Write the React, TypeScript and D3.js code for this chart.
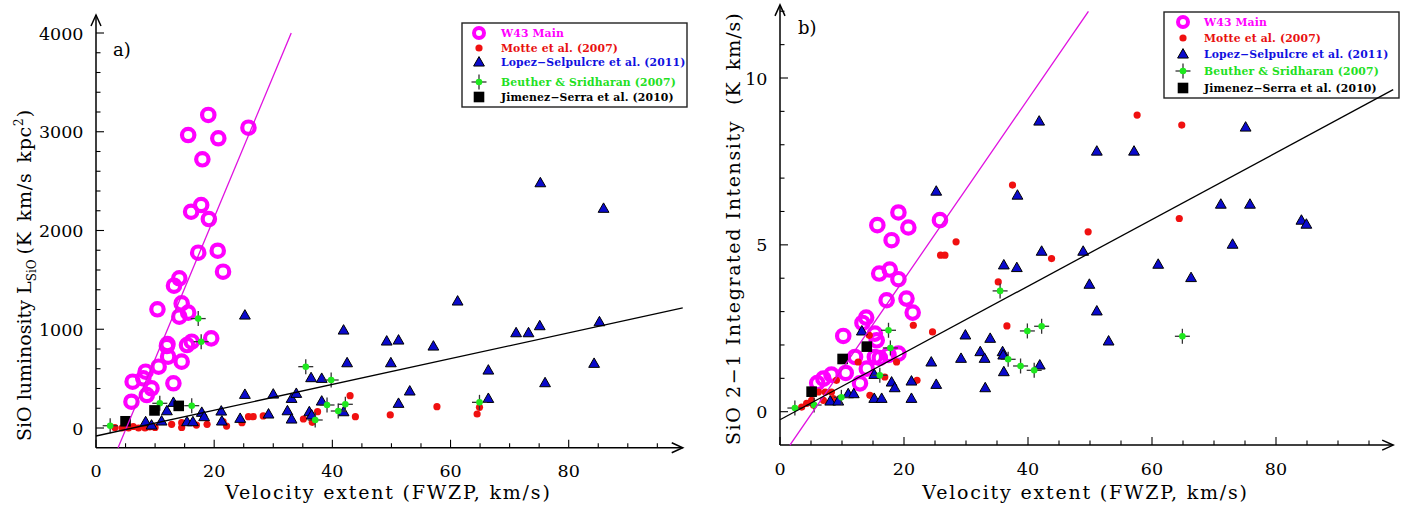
import React from 'react';
import * as d3 from 'd3';

// ---------- DATA (panel a: SiO luminosity, K km/s kpc^2) ----------
const w43A: [number, number][] = [
  [19.0, 3170], [15.6, 2967], [20.7, 2934], [25.8, 3041], [18.0, 2721], [16.1, 2190], [17.8, 2258],
  [19.1, 2116], [17.3, 1775], [20.6, 1795], [21.5, 1583], [10.4, 1202], [14.1, 1516], [13.2, 1441],
  [14.5, 1262], [14.1, 1127], [15.6, 1168], [16.2, 874], [15.4, 840], [19.5, 908], [12.0, 830],
  [12.2, 722], [14.5, 672], [10.6, 621], [8.4, 570], [8.0, 503], [6.2, 469], [9.4, 402], [8.6, 334],
  [13.1, 453], [6.0, 266], [12.1, 850]
];
const motteA: [number, number][] = [
  [3.2, 5], [4.4, 0], [5.5, 0], [6.3, 15], [7.2, 0], [8.3, 0], [9.1, 10], [10.0, 5], [12.8, 37],
  [14.5, 54], [14.5, 5], [17.0, 30], [18.8, 37], [21.5, 64], [22.1, 20], [24.7, 54], [25.8, 115],
  [26.6, 115], [28.3, 122], [35.1, 91], [36.6, 57], [37.5, 165], [43.0, 327], [43.9, 115], [49.8, 132],
  [57.7, 216], [64.9, 209], [64.5, 142]
];
const lopezA: [number, number][] = [
  [8.4, 64], [9.4, 30], [11.1, 71], [12.0, 175], [13.1, 260], [15.4, 64], [16.4, 64], [17.9, 159],
  [18.3, 115], [21.2, 172], [21.3, 71], [24.4, 98], [25.2, 341], [25.2, 1144], [29.2, 142], [30.0, 344],
  [32.4, 175], [33.1, 91], [33.1, 300], [33.9, 351], [36.1, 165], [36.5, 132], [36.4, 510], [38.2, 503],
  [38.2, 273], [41.9, 992], [41.9, 165], [42.5, 661], [49.2, 881], [49.9, 661], [51.2, 891], [51.2, 250],
  [53.1, 375], [57.1, 830], [61.2, 1286], [66.4, 587], [66.4, 300], [71.1, 965], [73.2, 965],
  [75.1, 1036], [75.2, 2484], [76.0, 459], [84.3, 655], [85.2, 1076], [85.9, 2225]
];
const beutherA: [number, number][] = [
  [2.4, 23], [10.8, 250], [16.2, 226], [17.3, 1108], [17.8, 874], [35.5, 621], [39.8, 486], [39.1, 233],
  [42.2, 240], [41.0, 172], [37.1, 81], [64.9, 260]
];
const jimenezA: [number, number][] = [[5.0, 68], [9.9, 178], [14.0, 224]];
const fitSteepA = { slope: 143.3, intercept: -735 };
const fitShallowA = { slope: 13.06, intercept: -81 };

// ---------- DATA (panel b: SiO 2-1 integrated intensity, K km/s) ----------
const w43B: [number, number][] = [
  [19.1, 5.97], [15.7, 5.59], [20.7, 5.52], [25.8, 5.74], [18.0, 5.14], [16.0, 4.14], [17.7, 4.26],
  [19.1, 3.97], [17.2, 3.34], [20.4, 3.39], [21.4, 2.97], [10.2, 2.27], [13.9, 2.82], [13.3, 2.66],
  [15.3, 2.34], [15.6, 2.14], [16.1, 1.61], [19.1, 1.74], [15.3, 1.64], [12.1, 1.64], [14.0, 1.29],
  [12.9, 0.85], [10.6, 1.16], [8.3, 1.11], [7.0, 0.99], [6.0, 0.86], [17.5, 1.70]
];
const motteB: [number, number][] = [
  [3.5, 0.14], [4.3, 0.25], [5.1, 0.34], [5.4, 0.2], [6.2, 0.59], [7.0, 0.34], [7.3, 0.59], [8.3, 0.59],
  [8.6, 0.39], [9.1, 0.94], [12.6, 1.49], [14.4, 2.29], [14.5, 0.49], [16.9, 1.04], [18.8, 1.49],
  [21.5, 2.59], [22.1, 0.94], [24.6, 2.39], [25.9, 4.69], [26.6, 4.69], [28.4, 5.09], [35.2, 3.89],
  [36.6, 2.57], [37.5, 6.79], [43.8, 4.59], [49.7, 5.39], [57.6, 8.89], [64.4, 5.79], [64.8, 8.59]
];
const lopezB: [number, number][] = [
  [8.1, 0.32], [9.4, 0.32], [11.0, 0.54], [11.9, 0.54], [13.2, 2.42], [15.2, 1.12], [15.2, 0.4],
  [16.4, 0.4], [18.0, 0.89], [18.5, 0.72], [21.2, 0.92], [21.2, 0.4], [24.4, 1.49], [25.2, 0.82],
  [25.2, 6.61], [29.2, 1.6], [29.9, 2.3], [32.3, 1.8], [33.0, 1.6], [33.9, 2.2], [33.1, 0.72],
  [35.9, 1.8], [36.0, 1.7], [36.1, 1.2], [36.1, 4.4], [38.2, 4.32], [38.3, 6.49], [41.8, 8.71],
  [41.9, 1.4], [42.2, 4.81], [48.9, 4.81], [49.9, 3.82], [51.1, 7.81], [51.1, 3.02], [53.0, 2.12],
  [57.1, 7.81], [61.0, 4.42], [66.3, 4.02], [71.1, 6.22], [73.0, 5.02], [75.1, 8.53], [75.8, 6.22],
  [84.1, 5.74], [84.9, 5.62]
];
const beutherB: [number, number][] = [
  [2.4, 0.11], [5.5, 0.2], [9.9, 0.43], [16.1, 1.09], [17.5, 2.44], [17.8, 1.91], [35.5, 3.62],
  [36.8, 1.57], [38.8, 1.37], [41.0, 1.24], [39.9, 2.42], [42.2, 2.56], [64.9, 2.26]
];
const jimenezB: [number, number][] = [[5.1, 0.6], [10.1, 1.58], [14.0, 1.95]];
const fitSteepB = { slope: 0.27, intercept: -1.432 };
const fitShallowB = { slope: 0.1, intercept: -0.24 };

// ---------- labels ----------
const xTickLabels = [0, 20, 40, 60, 80];
const yTickLabelsA = [0, 1000, 2000, 3000, 4000];
const yTickLabelsB = [0, 5, 10];
const legendLabels = [
  'W43 Main',
  'Motte et al. (2007)',
  'Lopez\u2212Selpulcre et al. (2011)',
  'Beuther & Sridharan (2007)',
  'Jimenez\u2212Serra et al. (2010)'
];

const C = {
  magenta: '#ff00ff',
  magLine: '#e010e0',
  red: '#f01010',
  blue: '#0a0acc',
  green: '#1ee81e',
};
const legendColors = [C.magenta, '#e81010', '#1010e0', '#22e022', '#000'];

const FONT = '"DejaVu Serif", serif';

type Pt = [number, number];

function Ring({ x, y }: { x: number; y: number }) {
  return <circle cx={x} cy={y} r={6.2} fill="none" stroke={C.magenta} strokeWidth={4.2} />;
}
function Dot({ x, y }: { x: number; y: number }) {
  return <circle cx={x} cy={y} r={3.6} fill={C.red} />;
}
function Tri({ x, y }: { x: number; y: number }) {
  const s = 5.4;
  return (
    <path
      d={`M${x},${y - s}L${x + s},${y + s * 0.75}L${x - s},${y + s * 0.75}Z`}
      fill={C.blue}
      stroke="#000"
      strokeWidth={1}
    />
  );
}
function Cross({ x, y }: { x: number; y: number }) {
  return (
    <g>
      <line x1={x - 7.5} x2={x + 7.5} y1={y} y2={y} stroke="#333" strokeWidth={1.3} />
      <line x1={x} x2={x} y1={y - 7.5} y2={y + 7.5} stroke="#333" strokeWidth={1.3} />
      <circle cx={x} cy={y} r={3.3} fill={C.green} />
    </g>
  );
}
function Sq({ x, y }: { x: number; y: number }) {
  const s = 5.3;
  return <rect x={x - s} y={y - s} width={2 * s} height={2 * s} fill="#000" />;
}

const markers = [Ring, Dot, Tri, Cross, Sq];

interface PanelProps {
  x: d3.ScaleLinear<number, number>;
  y: d3.ScaleLinear<number, number>;
  xMax: number;
  yMin: number;
  yMax: number;
  steepTop: number;
  yMinorStep: number;
  yMajorStep: number;
  yTickLabels: number[];
  sets: Pt[][];
  fits: { slope: number; intercept: number }[];
  tag: string;
  tagPos: [number, number];
  legend: { x0: number; y0: number; x1: number; y1: number; symX: number; textX: number; rows: number[] };
  yTitle: React.ReactNode;
}

function Panel(p: PanelProps) {
  const { x, y } = p;
  const x0 = x(0);
  const yb = y(p.yMin);
  const xEnd = x(p.xMax);
  const yTop = y(p.yMax);
  const xMinor = d3.range(0, p.xMax, 5);
  const yMinor = d3.range(p.yMin, p.yMax, p.yMinorStep).filter((v) => v > p.yMin);
  const isMajor = (v: number, step: number) => Math.abs(v / step - Math.round(v / step)) < 1e-6;

  const fitLines = p.fits.map((f, i) => {
    const yAt = (xv: number) => f.slope * xv + f.intercept;
    let xa = 0;
    let xbv = p.xMax;
    if (yAt(xa) < p.yMin) xa = (p.yMin - f.intercept) / f.slope;
    const top = i === 0 ? p.steepTop : p.yMax;
    if (yAt(xbv) > top) xbv = (top - f.intercept) / f.slope;
    return (
      <line
        key={i}
        x1={x(xa)}
        y1={y(yAt(xa))}
        x2={x(xbv)}
        y2={y(yAt(xbv))}
        stroke={i === 0 ? C.magLine : '#000'}
        strokeWidth={1.3}
      />
    );
  });

  const L = p.legend;
  return (
    <g>
      {/* axes */}
      <line x1={x0} x2={xEnd} y1={yb} y2={yb} stroke="#000" strokeWidth={1.5} />
      <line x1={x0} x2={x0} y1={yb} y2={yTop} stroke="#000" strokeWidth={1.5} />
      <path d={`M${xEnd - 11},${yb - 5}L${xEnd},${yb}L${xEnd - 11},${yb + 5}`} fill="none" stroke="#000" strokeWidth={1.5} />
      <path d={`M${x0 - 5},${yTop + 11}L${x0},${yTop}L${x0 + 5},${yTop + 11}`} fill="none" stroke="#000" strokeWidth={1.5} />
      {xMinor.map((v) => (
        <line key={'xt' + v} x1={x(v)} x2={x(v)} y1={yb} y2={yb - (v % 20 === 0 ? 8 : 4.5)} stroke="#000" strokeWidth={1.1} />
      ))}
      {yMinor.map((v) => (
        <line key={'yt' + v} x1={x0} x2={x0 + (isMajor(v, p.yMajorStep) ? 8 : 4.5)} y1={y(v)} y2={y(v)} stroke="#000" strokeWidth={1.1} />
      ))}
      {xTickLabels.map((v) => (
        <text key={'xl' + v} x={x(v)} y={yb + 29.5} textAnchor="middle" fontFamily={FONT} fontSize={17.5}>
          {v}
        </text>
      ))}
      {p.yTickLabels.map((v) => (
        <text key={'yl' + v} x={x0 - 12.5} y={y(v) + 6.5} textAnchor="end" fontFamily={FONT} fontSize={17.5}>
          {v}
        </text>
      ))}
      <text
        x={(x0 + xEnd) / 2 - 1}
        y={499}
        textAnchor="middle"
        fontFamily={FONT}
        fontSize={19}
        letterSpacing={1.8}
      >
        Velocity extent (FWZP, km/s)
      </text>
      {p.yTitle}
      <text x={p.tagPos[0]} y={p.tagPos[1]} fontFamily={FONT} fontSize={18}>
        {p.tag}
      </text>
      {/* data */}
      {p.sets.map((set, si) => {
        const M = markers[si];
        return (
          <g key={'s' + si}>
            {set.map((d, i) => (
              <M key={i} x={x(d[0])} y={y(d[1])} />
            ))}
          </g>
        );
      })}
      {/* legend */}
      <rect x={L.x0} y={L.y0} width={L.x1 - L.x0} height={L.y1 - L.y0} fill="#fff" stroke="#222" strokeWidth={1.4} />
      {legendLabels.map((lab, i) => {
        const M = markers[i];
        return (
          <g key={'lg' + i}>
            {i === 0 ? (
              <circle cx={L.symX} cy={L.rows[i]} r={5} fill="none" stroke={C.magenta} strokeWidth={4} />
            ) : (
              <M x={L.symX} y={L.rows[i]} />
            )}
            <text
              x={L.textX}
              y={L.rows[i] + 4}
              fill={legendColors[i]}
              fontFamily={FONT}
              fontWeight="bold"
              fontSize={10.8}
              letterSpacing={0.15}
            >
              {lab}
            </text>
          </g>
        );
      })}
      {fitLines}
    </g>
  );
}

export default function App() {
  const xA = d3.scaleLinear().domain([0, 80]).range([96, 568.7]);
  const yA = d3.scaleLinear().domain([0, 4000]).range([428, 33]);
  const xB = d3.scaleLinear().domain([0, 80]).range([780, 1276]);
  const yB = d3.scaleLinear().domain([0, 10]).range([411.7, 78]);

  const yTitleA = (
    <text transform="translate(31,441) rotate(-90)" fontFamily={FONT} fontSize={19}>
      SiO luminosity L
      <tspan fontSize={12} dy={5}>SiO</tspan>
      <tspan dy={-5} dx={5} letterSpacing={0.8} wordSpacing={3}>(K km/s kpc</tspan>
      <tspan fontSize={12} dy={-8}>2</tspan>
      <tspan dy={8} dx={1}>)</tspan>
    </text>
  );
  const yTitleB = (
    <text transform="translate(740,445) rotate(-90)" fontFamily={FONT} fontSize={19}>
      <tspan letterSpacing={1.6}>SiO 2{'\u2212'}1 Integrated Intensity</tspan>
      <tspan dx={15} letterSpacing={1.0} wordSpacing={4}>(K km/s)</tspan>
    </text>
  );

  return (
    <svg width={1421} height={513} style={{ position: 'absolute', left: 0, top: 0, background: '#fff' }}>
      <rect x={0} y={0} width={1421} height={513} fill="#fff" />
      <Panel
        x={xA}
        y={yA}
        xMax={99.3}
        yMin={-200}
        yMax={4182}
        steepTop={4000}
        yMinorStep={200}
        yMajorStep={1000}
        yTickLabels={yTickLabelsA}
        sets={[w43A, motteA, lopezA, beutherA, jimenezA]}
        fits={[fitSteepA, fitShallowA]}
        tag="a)"
        tagPos={[113, 56]}
        legend={{ x0: 462, y0: 23, x1: 687, y1: 107, symX: 479, textX: 501, rows: [33, 48, 62, 82, 97] }}
        yTitle={yTitleA}
      />
      <Panel
        x={xB}
        y={yB}
        xMax={98.9}
        yMin={-1}
        yMax={12.19}
        steepTop={12}
        yMinorStep={1}
        yMajorStep={5}
        yTickLabels={yTickLabelsB}
        sets={[w43B, motteB, lopezB, beutherB, jimenezB]}
        fits={[fitSteepB, fitShallowB]}
        tag="b)"
        tagPos={[798, 34]}
        legend={{ x0: 1164, y0: 12, x1: 1399, y1: 98, symX: 1183, textX: 1204, rows: [22, 38, 54, 71, 88] }}
        yTitle={yTitleB}
      />
    </svg>
  );
}
